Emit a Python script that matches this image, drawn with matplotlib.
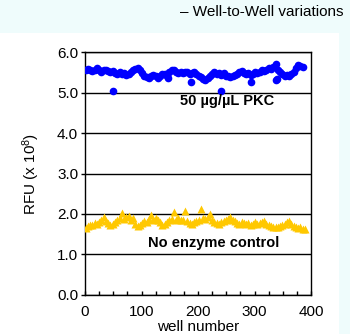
import numpy as np
import matplotlib
matplotlib.use("Agg")
import matplotlib.pyplot as plt
from matplotlib.patches import Rectangle
from matplotlib.ticker import MultipleLocator, FormatStrFormatter

plt.rcParams['font.family'] = ['Liberation Sans', 'DejaVu Sans']
plt.rcParams['mathtext.default'] = 'regular'

# --- data ---
# 50 ug/uL PKC, every 4th well
pkc_wells = np.arange(1, 386, 4)
pkc_rfu = [
    5.57, 5.58, 5.55, 5.53, 5.56, 5.61, 5.55, 5.52, 5.56, 5.57,
    5.54, 5.50, 5.53, 5.48, 5.46, 5.50, 5.45, 5.48, 5.44, 5.47,
    5.51, 5.55, 5.59, 5.61, 5.55, 5.48, 5.42, 5.38, 5.35, 5.40,
    5.44, 5.42, 5.36, 5.40, 5.45, 5.47, 5.42, 5.50, 5.55, 5.57,
    5.52, 5.49, 5.51, 5.48, 5.50, 5.52, 5.47, 5.49, 5.51, 5.46,
    5.42, 5.38, 5.34, 5.31, 5.35, 5.40, 5.45, 5.50, 5.47, 5.49,
    5.44, 5.48, 5.42, 5.40, 5.38, 5.41, 5.43, 5.45, 5.50, 5.53,
    5.49, 5.46, 5.48, 5.44, 5.47, 5.50, 5.48, 5.52, 5.55, 5.53,
    5.57, 5.60, 5.58, 5.64, 5.71, 5.56, 5.52, 5.46, 5.42, 5.44,
    5.40, 5.45, 5.50, 5.60, 5.69, 5.66, 5.62,
]
# low outlier wells
pkc_out_wells = [49, 146, 187, 241, 294, 338, 340]
pkc_out_rfu = [5.04, 5.35, 5.25, 5.04, 5.25, 5.30, 5.33]

# no enzyme control, every 4th well
ctrl_wells = np.arange(1, 390, 4)
ctrl_rfu = [
    1.66, 1.70, 1.72, 1.74, 1.77, 1.75, 1.80, 1.86, 1.93, 1.82,
    1.78, 1.73, 1.76, 1.80, 1.84, 1.90, 2.02, 1.88, 1.92, 1.95,
    1.85, 1.90, 1.76, 1.70, 1.74, 1.78, 1.83, 1.80, 1.88, 1.97,
    1.86, 1.89, 1.84, 1.80, 1.74, 1.76, 1.80, 1.84, 1.88, 2.04,
    1.86, 1.90, 1.84, 1.86, 2.07, 1.82, 1.78, 1.76, 1.79, 1.82,
    1.86, 2.12, 1.90, 1.87, 1.92, 1.99, 1.84, 1.80, 1.78, 1.76,
    1.79, 1.82, 1.85, 1.88, 1.93, 1.86, 1.82, 1.78, 1.76, 1.79,
    1.77, 1.75, 1.78, 1.74, 1.76, 1.79, 1.75, 1.77, 1.80, 1.82,
    1.76, 1.72, 1.70, 1.68, 1.69, 1.67, 1.70, 1.72, 1.76, 1.80,
    1.82, 1.76, 1.70, 1.68, 1.66, 1.67, 1.64, 1.63,
]

fig = plt.figure(figsize=(3.5, 3.34), dpi=100)
fig.patch.set_facecolor('#effcfc')
fig.patches.append(Rectangle((0, 0), 339 / 350, 301 / 334, transform=fig.transFigure,
                             facecolor='white', edgecolor='none', zorder=-10))

ax = fig.add_axes([0.243, 0.117, 0.646, 0.727])
ax.set_facecolor('white')

ax.plot(pkc_wells, pkc_rfu, ls='none', marker='o', ms=5.5, color='#0000ff', mec='none', zorder=3)
ax.plot(pkc_out_wells, pkc_out_rfu, ls='none', marker='o', ms=5.5, color='#0000ff', mec='none', zorder=3)
ax.plot(ctrl_wells, ctrl_rfu, ls='none', marker='^', ms=6, color='#ffc800', mec='none', zorder=3)

ax.set_xlim(0, 400)
ax.set_ylim(0, 6)
ax.yaxis.set_major_locator(MultipleLocator(1))
ax.yaxis.set_major_formatter(FormatStrFormatter('%.1f'))
ax.xaxis.set_major_locator(MultipleLocator(100))
ax.xaxis.set_minor_locator(MultipleLocator(25))
ax.grid(axis='y', color='black', lw=1)
ax.set_axisbelow(True)

ax.tick_params(axis='x', which='both', direction='in', length=3, width=1, pad=7, labelsize=11)
ax.tick_params(axis='y', direction='out', length=3, width=1, pad=2, labelsize=11)
for s in ax.spines.values():
    s.set_linewidth(1)

ax.set_xlabel('well number', fontsize=11, labelpad=1)
ax.set_ylabel('RFU (x 10$^{8}$)', fontsize=11, labelpad=11)

ax.text(251, 4.79, '50 µg/µL PKC', fontsize=10.5, fontweight='bold', ha='center', va='center')
ax.text(228, 1.28, 'No enzyme control', fontsize=10.5, fontweight='bold', ha='center', va='center')

fig.text(0.98, 0.964, '– Well-to-Well variations', fontsize=11, ha='right', va='center')

fig.savefig('out.png', dpi=100, facecolor=fig.get_facecolor())
